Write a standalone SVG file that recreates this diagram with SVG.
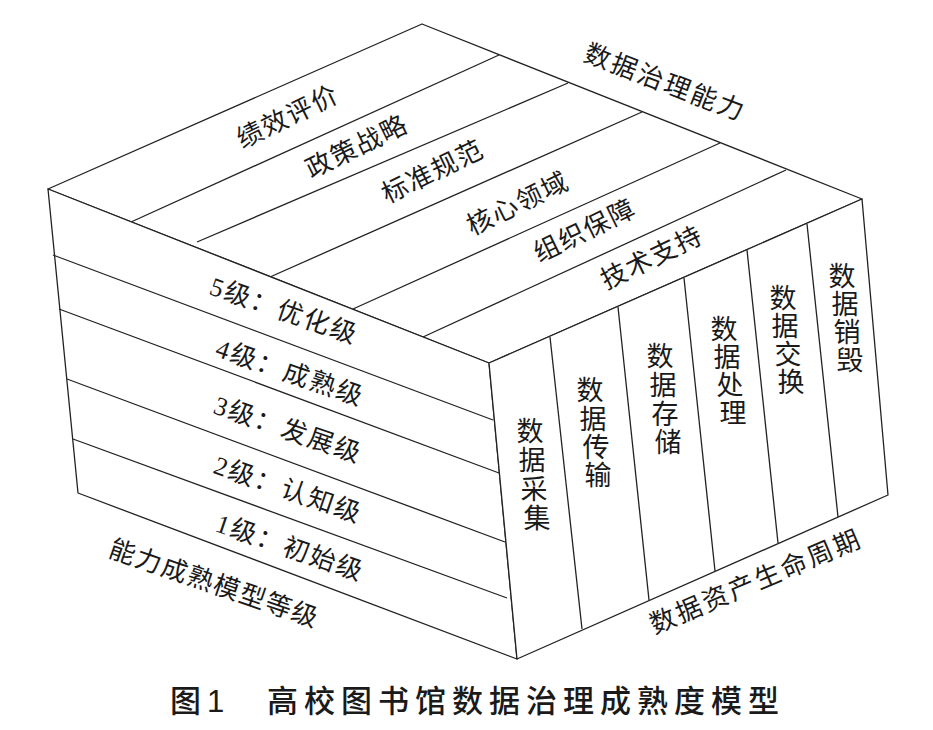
<svg xmlns="http://www.w3.org/2000/svg" width="933" height="730" viewBox="0 0 933 730">
<style>
.edge{fill:#fff;stroke:#222;stroke-width:1.3;stroke-linejoin:round}
.ln{stroke:#222;stroke-width:1.3;fill:none}
.t{font-family:"Liberation Serif","Noto Sans CJK SC",serif;font-size:26px;fill:#1a1a1a;text-anchor:middle;dominant-baseline:central}
.top{letter-spacing:1.5px}
.lv{letter-spacing:2px}
.v{font-family:"Liberation Serif","Noto Sans CJK SC",serif;font-size:27px;fill:#1a1a1a;text-anchor:middle;dominant-baseline:central}
.title{font-family:"Liberation Sans","Noto Sans CJK SC",sans-serif;font-size:31px;font-weight:500;fill:#1a1a1a;dominant-baseline:central;letter-spacing:6px}
</style>
<rect width="933" height="730" fill="#fff"/>
<g id="top-face">
<polygon class="edge" points="48,189 422,24 862,199 489,363"/>
<line class="ln" x1="131" y1="222" x2="499" y2="55"/>
<line class="ln" x1="197" y1="242" x2="568" y2="83"/>
<line class="ln" x1="270" y1="277" x2="642" y2="112"/>
<line class="ln" x1="353" y1="309" x2="720" y2="143"/>
<line class="ln" x1="423" y1="337" x2="786" y2="170"/>
<text class="t top" transform="translate(288,117) rotate(-26)">绩效评价</text>
<text class="t top" transform="translate(357,147) rotate(-26)">政策战略</text>
<text class="t top" transform="translate(433,172) rotate(-26)">标准规范</text>
<text class="t top" transform="translate(518,204) rotate(-26)">核心领域</text>
<text class="t top" transform="translate(585,231) rotate(-26)">组织保障</text>
<text class="t top" transform="translate(652,258) rotate(-26)">技术支持</text>
<text class="t" style="letter-spacing:2.5px" transform="translate(665,83) rotate(21)">数据治理能力</text>
</g>
<g id="left-face">
<polygon class="edge" points="48,189 489,363 517,659 78,493"/>
<line class="ln" x1="53" y1="255" x2="493" y2="420"/>
<line class="ln" x1="59" y1="309" x2="499" y2="473"/>
<line class="ln" x1="67" y1="379" x2="505" y2="542"/>
<line class="ln" x1="73" y1="439" x2="507" y2="598"/>
<text class="t lv" transform="translate(284,311) rotate(19)">5级：优化级</text>
<text class="t lv" transform="translate(290,373) rotate(19)">4级：成熟级</text>
<text class="t lv" transform="translate(288,430) rotate(19)">3级：发展级</text>
<text class="t lv" transform="translate(288,490) rotate(19)">2级：认知级</text>
<text class="t lv" transform="translate(290,548) rotate(19)">1级：初始级</text>
<text class="t" style="letter-spacing:1.5px" transform="translate(214,584) rotate(19)">能力成熟模型等级</text>
</g>
<g id="right-face">
<polygon class="edge" points="489,363 862,199 888,495 517,659"/>
<line class="ln" x1="550" y1="337" x2="582" y2="629"/>
<line class="ln" x1="618" y1="307" x2="649" y2="600"/>
<line class="ln" x1="684" y1="278" x2="715" y2="571"/>
<line class="ln" x1="747" y1="250" x2="778" y2="543"/>
<line class="ln" x1="807" y1="224" x2="838" y2="517"/>
<text class="v"><tspan x="530" y="432">数</tspan><tspan x="532" y="461">据</tspan><tspan x="534" y="490">采</tspan><tspan x="537" y="519">集</tspan></text>
<text class="v"><tspan x="590" y="391">数</tspan><tspan x="593" y="420">据</tspan><tspan x="596" y="448">传</tspan><tspan x="598" y="476">输</tspan></text>
<text class="v"><tspan x="660" y="357">数</tspan><tspan x="663" y="386">据</tspan><tspan x="665" y="415">存</tspan><tspan x="668" y="443">储</tspan></text>
<text class="v"><tspan x="724" y="330">数</tspan><tspan x="727" y="358">据</tspan><tspan x="730" y="386">处</tspan><tspan x="733" y="414">理</tspan></text>
<text class="v"><tspan x="783" y="299">数</tspan><tspan x="785" y="327">据</tspan><tspan x="788" y="355">交</tspan><tspan x="791" y="383">换</tspan></text>
<text class="v"><tspan x="842" y="277">数</tspan><tspan x="845" y="305">据</tspan><tspan x="847" y="333">销</tspan><tspan x="850" y="361">毁</tspan></text>
<text class="t" style="letter-spacing:2.5px" transform="translate(756,582) rotate(-23)">数据资产生命周期</text>
</g>
<g id="caption">
<text class="title" y="701"><tspan x="170">图1</tspan><tspan x="267">高校图书馆数据治理成熟度模型</tspan></text>
</g>
</svg>
